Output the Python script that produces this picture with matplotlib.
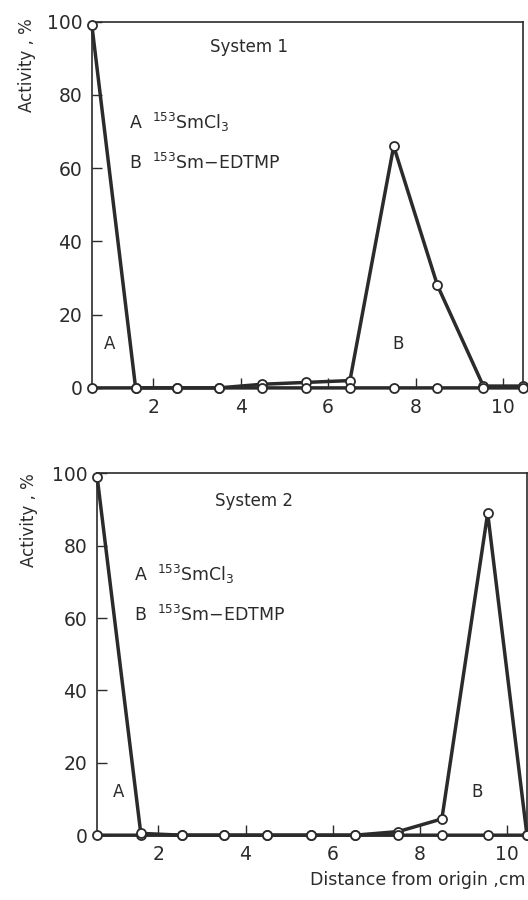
import matplotlib
matplotlib.use("Agg")
import matplotlib.pyplot as plt

# distance from origin (cm) of the measured strip segments
distance = [0.6, 1.6, 2.55, 3.5, 4.5, 5.5, 6.5, 7.5, 8.5, 9.55, 10.45]

# system 1
sys1_smcl3 = [99, 0, 0, 0, 0, 0, 0, 0, 0, 0, 0]
sys1_edtmp = [0, 0, 0, 0, 1, 1.5, 2, 66, 28, 0.5, 0.5]

# system 2
sys2_smcl3 = [99, 0.5, 0, 0, 0, 0, 0, 0, 0, 0, 0]
sys2_edtmp = [0, 0, 0, 0, 0, 0, 0, 1, 4.5, 89, 0]

yticks = [0, 20, 40, 60, 80, 100]
xticks = [2, 4, 6, 8, 10]

ink = "#2b2b2b"
plt.rcParams['font.family'] = ['DejaVu Sans']
plt.rcParams['mathtext.fontset'] = 'dejavusans'

fig = plt.figure(figsize=(5.28, 9.0), dpi=100)
ax1 = fig.add_axes([0.174, 0.569, 0.816, 0.407])
ax2 = fig.add_axes([0.184, 0.072, 0.814, 0.402])

panels = [
    (ax1, sys1_smcl3, sys1_edtmp, "System 1", (4.2, 93), (1.0, 12), (7.6, 12), 0.051, 0.928),
    (ax2, sys2_smcl3, sys2_edtmp, "System 2", (4.2, 92.5), (1.1, 12), (9.3, 12), 0.055, 0.422),
]

for ax, a_vals, b_vals, title, tpos, apos, bpos, lx, ly in panels:
    for vals in (b_vals, a_vals):
        ax.plot(distance, vals, color=ink, lw=2.5, marker='o', ms=6.5,
                mfc='white', mec=ink, mew=1.3, clip_on=False, zorder=3)
    ax.set_xlim(0.6, 10.45)
    ax.set_ylim(0, 100)
    ax.set_xticks(xticks)
    ax.set_yticks(yticks)
    ax.tick_params(direction='in', length=7, width=1.0, colors=ink,
                   labelsize=13.5)
    ax.tick_params(axis='x', pad=7)
    ax.tick_params(axis='y', pad=7)
    for s in ax.spines.values():
        s.set_linewidth(1.2)
        s.set_color(ink)

    ax.text(tpos[0], tpos[1], title, ha='center', va='center',
            fontsize=12, color=ink)
    ax.text(1.45, tpos[1] - 20.5, r"A  $^{153}$SmCl$_3$", ha='left',
            va='center', fontsize=12.5, color=ink)
    ax.text(1.45, tpos[1] - 31.5, r"B  $^{153}$Sm$-$EDTMP", ha='left',
            va='center', fontsize=12.5, color=ink)
    ax.text(apos[0], apos[1], "A", ha='center', va='center',
            fontsize=12, color=ink)
    ax.text(bpos[0], bpos[1], "B", ha='center', va='center',
            fontsize=12, color=ink)

    fig.text(lx, ly, "Activity , %", rotation=90, ha='center', va='center',
             fontsize=12, color=ink)

fig.text(0.995, 0.022, "Distance from origin ,cm", ha='right', va='center',
         fontsize=12.5, color=ink)

fig.savefig("out.png", dpi=100)
